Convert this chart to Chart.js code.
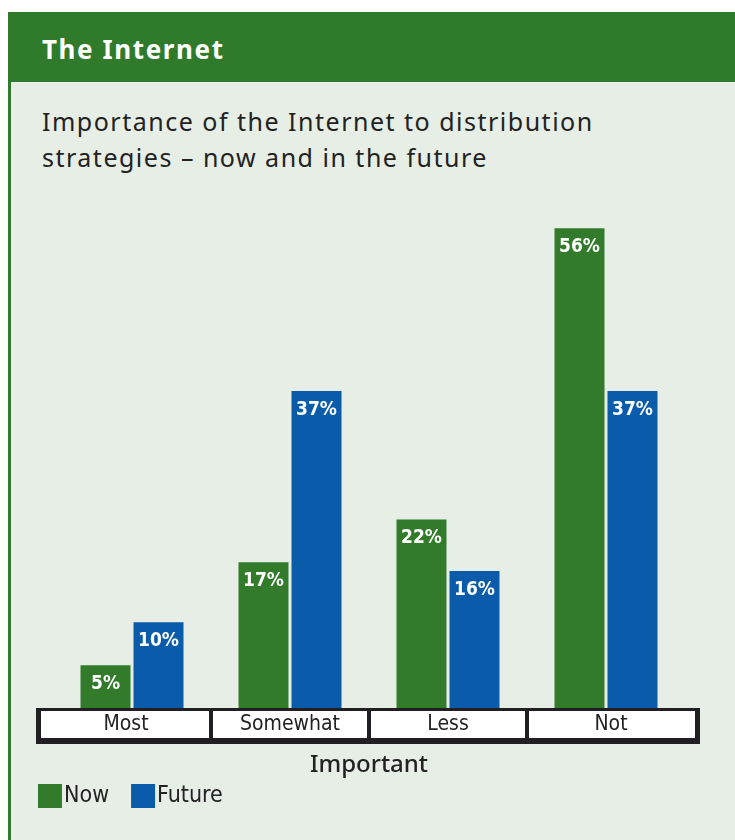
<!DOCTYPE html>
<html>
<head>
<meta charset="utf-8">
<script src="https://cdn.jsdelivr.net/npm/chart.js@4.4.0/dist/chart.umd.min.js"></script>
<style>
  html, body { margin: 0; padding: 0; background: #ffffff; }
  body { width: 735px; height: 840px; position: relative; overflow: hidden; font-family: "Noto Sans", sans-serif; }
  .panel { position: absolute; left: 8px; top: 12px; right: 0; bottom: 0; background: #e6eee6; border-left: 3px solid #2f7b2b; }
  .head { position: absolute; left: 8px; top: 12px; right: 0; height: 70px; background: #2f7b2b; }
  .head h1 { margin: 0; position: absolute; left: 34px; top: 22px; font-size: 26px; line-height: 30px; font-weight: bold; letter-spacing: 1.6px; color: #fff; }
  .sub { position: absolute; left: 42px; top: 103px; font-size: 25px; line-height: 36px; letter-spacing: 1.5px; color: #222; }
  #chartWrap { position: absolute; left: 0; top: 0; width: 735px; height: 840px; }
</style>
</head>
<body>
<div class="panel"></div>
<div class="head"><h1>The Internet</h1></div>
<div class="sub">Importance of the Internet to distribution<br>strategies – now and in the future</div>
<div id="chartWrap"><canvas id="myChart" width="735" height="840"></canvas></div>
<script>
// chart data
const categories = ['Most', 'Somewhat', 'Less', 'Not'];
const nowValues = [5, 17, 22, 56];
const futureValues = [10, 37, 16, 37];
const seriesNames = ['Now', 'Future'];
const axisTitle = 'Important';

const green = '#317b2b';
const blue = '#0a5cab';
const narrowFont = '"Liberation Sans Narrow", "DejaVu Sans Condensed", "Noto Sans", sans-serif';

// value labels inside the top of each bar
const barLabels = {
    id: 'barLabels',
    afterDatasetsDraw(chart) {
        const c = chart.ctx;
        c.save();
        c.fillStyle = '#ffffff';
        c.font = 'bold 19px ' + narrowFont;
        c.textAlign = 'center';
        c.textBaseline = 'middle';
        chart.data.datasets.forEach((ds, i) => {
            chart.getDatasetMeta(i).data.forEach((bar, j) => {
                c.fillText(ds.data[j] + '%', bar.x, bar.y + 19);
            });
        });
        c.restore();
    }
};

// category box under the bars, axis title and legend
const categoryBox = {
    id: 'categoryBox',
    afterDraw(chart) {
        const c = chart.ctx;
        const area = chart.chartArea;
        const x = chart.scales.x;
        const left = area.left - 17;
        const right = area.right + 15;
        const top = area.bottom;
        const bottom = top + 36;

        c.save();
        c.fillStyle = '#221f24';
        c.fillRect(left, top, right - left, bottom - top);

        const n = categories.length;
        const edges = [left + 5];
        for (let i = 0; i < n - 1; i++) {
            edges.push((x.getPixelForValue(i) + x.getPixelForValue(i + 1)) / 2);
        }
        edges.push(right - 5);

        c.fillStyle = '#ffffff';
        for (let i = 0; i < n; i++) {
            const a = i === 0 ? edges[i] : edges[i] + 2;
            const b = i === n - 1 ? edges[i + 1] : edges[i + 1] - 2;
            c.fillRect(a, top + 3, b - a, bottom - top - 9);
        }

        c.fillStyle = '#222222';
        c.font = '21px ' + narrowFont;
        c.textAlign = 'center';
        c.textBaseline = 'middle';
        for (let i = 0; i < n; i++) {
            c.fillText(categories[i], (edges[i] + edges[i + 1]) / 2, top + 17);
        }

        c.font = '500 24px "Noto Sans", sans-serif';
        c.fillText(axisTitle, (area.left + area.right) / 2, bottom + 21);

        // legend
        c.textAlign = 'left';
        c.font = '23px ' + narrowFont;
        let lx = 38;
        const ly = 784;
        chart.data.datasets.forEach((ds) => {
            c.fillStyle = ds.backgroundColor;
            c.fillRect(lx, ly, 24, 24);
            c.fillStyle = '#222222';
            c.fillText(ds.label, lx + 26, ly + 12);
            lx += 26 + c.measureText(ds.label).width + 22;
        });
        c.restore();
    }
};

const ctx = document.getElementById('myChart').getContext('2d');
const myChart = new Chart(ctx, {
    type: 'bar',
    data: {
        labels: categories,
        datasets: [
            { label: seriesNames[0], data: nowValues, backgroundColor: green },
            { label: seriesNames[1], data: futureValues, backgroundColor: blue }
        ]
    },
    options: {
        responsive: false,
        animation: false,
        categoryPercentage: 0.671,
        barPercentage: 0.943,
        layout: { padding: { left: 53, right: 50, top: 194, bottom: 132 } },
        plugins: { legend: { display: false }, tooltip: { enabled: false } },
        scales: {
            x: { display: false },
            y: { display: false, min: 0, max: 60 }
        }
    },
    plugins: [barLabels, categoryBox]
});
</script>
</body>
</html>
